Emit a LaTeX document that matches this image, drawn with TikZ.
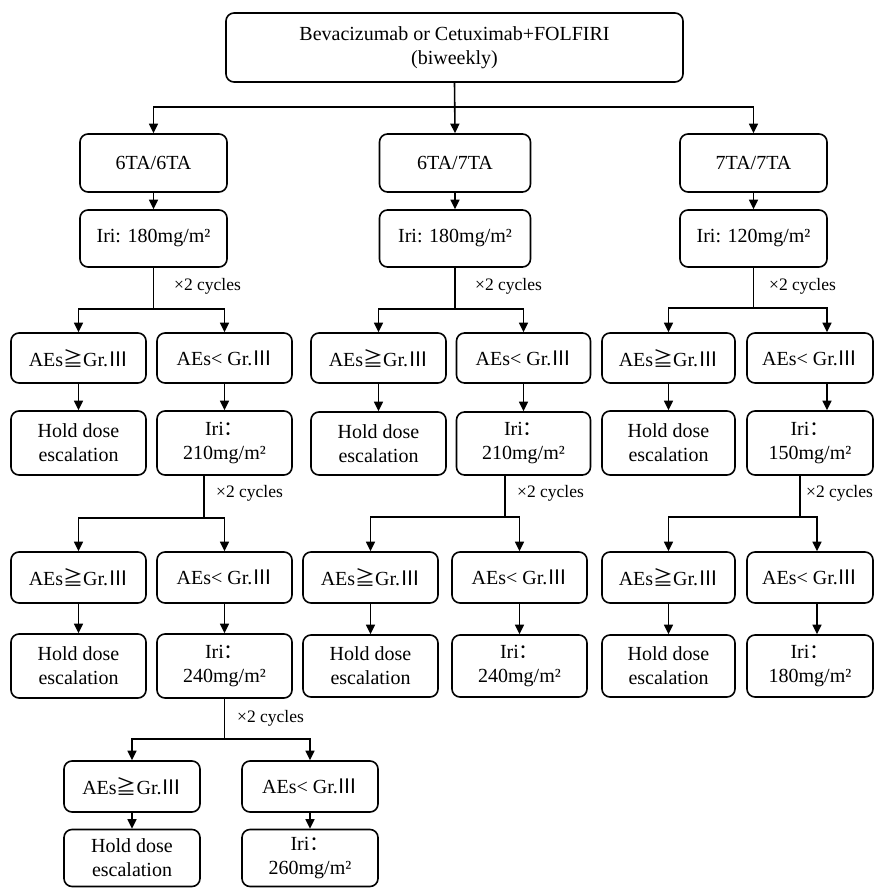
\documentclass[tikz,border=0pt]{standalone}
\usepackage{fontspec}
\setmainfont{Liberation Serif}
\newfontfamily\cjk{Noto Sans CJK SC}
\usetikzlibrary{arrows.meta,calc}
\newcommand{\geqq}{{\cjk ≧}}
\newcommand{\rIII}{{\cjk Ⅲ}}
\newcommand{\ycol}{Iri{\cjk ：}}
\begin{document}
\begin{tikzpicture}[x=1pt,y=-1pt,
  box/.style={draw, rounded corners=8pt, line width=1.6pt, align=center, inner sep=0pt,
    font=\fontsize{20}{24}\selectfont},
  bsz/.style 2 args={minimum width=#1pt, minimum height=#2pt},
  arr/.style={line width=1.6pt, -{Triangle[length=9.5pt,width=9pt]}},
  ln/.style={line width=1.6pt},
  cyc/.style={anchor=west, inner sep=0pt, font=\fontsize{17.5}{19}\selectfont}]
\useasboundingbox (0,0) rectangle (874,888);
% top
\node[box,bsz={457}{69}] (top) at (454.5,47.5) {Bevacizumab or Cetuximab+FOLFIRI\\(biweekly)};
% level 1
\node[box,bsz={147}{58}] (a1) at (153.5,163) {6TA/6TA};
\node[box,bsz={151}{58}] (b1) at (455,163) {6TA/7TA};
\node[box,bsz={147}{58}] (c1) at (753.5,163) {7TA/7TA};
\coordinate (j0) at (455,107);
\draw[arr] (top.south) -- (b1.north);
\draw[arr] (j0) -| (a1.north);
\draw[arr] (j0) -| (c1.north);
% level 2
\node[box,bsz={147}{57}] (a2) at (153.5,238.5) {Iri: 180mg/m²};
\node[box,bsz={151}{57}] (b2) at (455,238.5) {Iri: 180mg/m²};
\node[box,bsz={147}{57}] (c2) at (753.5,238.5) {Iri: 120mg/m²};
\draw[arr] (a1) -- (a2);
\draw[arr] (b1) -- (b2);
\draw[arr] (c1) -- (c2);

% ===== column A =====
\node[box,bsz={135}{50}] (aY1) at (78.5,358) {AEs\geqq Gr.\rIII};
\node[box,bsz={135}{50}] (aN1) at (224.5,358) {AEs< Gr.\rIII};
\coordinate (ja1) at (153.5,309);
\draw[ln] (a2.south) -- (ja1);
\node[cyc] (la1) at (174,286) {×2 cycles};
\draw[arr] (ja1) -| (aY1.north);
\draw[arr] (ja1) -| (aN1.north);
\node[box,bsz={135}{64}] (aH1) at (78.5,443) {Hold dose\\escalation};
\node[box,bsz={135}{64}] (aI1) at (224.5,443) {\ycol\\210mg/m²};
\draw[arr] (aY1) -- (aH1);
\draw[arr] (aN1) -- (aI1);
\coordinate (ja2) at (204,518);
\draw[ln] (ja2 |- aI1.south) -- (ja2);
\node[cyc] (la2) at (216,493) {×2 cycles};
\node[box,bsz={135}{51}] (aY2) at (78.5,577.5) {AEs\geqq Gr.\rIII};
\node[box,bsz={135}{51}] (aN2) at (224.5,577.5) {AEs< Gr.\rIII};
\draw[arr] (ja2) -| (aY2.north);
\draw[arr] (ja2) -| (aN2.north);
\node[box,bsz={135}{64}] (aH2) at (78.5,666) {Hold dose\\escalation};
\node[box,bsz={135}{64}] (aI2) at (224.5,666) {\ycol\\240mg/m²};
\draw[arr] (aY2) -- (aH2);
\draw[arr] (aN2) -- (aI2);
\coordinate (ja3) at (224.5,739);
\draw[ln] (aI2.south) -- (ja3);
\node[cyc] (la3) at (237,718) {×2 cycles};
\node[box,bsz={136}{51}] (aY3) at (132,786.5) {AEs\geqq Gr.\rIII};
\node[box,bsz={136}{51}] (aN3) at (310,786.5) {AEs< Gr.\rIII};
\draw[arr] (ja3) -| (aY3.north);
\draw[arr] (ja3) -| (aN3.north);
\node[box,bsz={136}{57}] (aH3) at (132,858) {Hold dose\\escalation};
\node[box,bsz={136}{57}] (aI3) at (310,858) {\ycol\\260mg/m²};
\draw[arr] (aY3) -- (aH3);
\draw[arr] (aN3) -- (aI3);

% ===== column B =====
\node[box,bsz={135}{50}] (bY1) at (378.5,358) {AEs\geqq Gr.\rIII};
\node[box,bsz={134}{50}] (bN1) at (523.5,358) {AEs< Gr.\rIII};
\coordinate (jb1) at (455,309);
\draw[ln] (b2.south) -- (jb1);
\node[cyc] (lb1) at (475,286) {×2 cycles};
\draw[arr] (jb1) -| (bY1.north);
\draw[arr] (jb1) -| (bN1.north);
\node[box,bsz={135}{63}] (bH1) at (378.5,443.5) {Hold dose\\escalation};
\node[box,bsz={134}{63}] (bI1) at (523.5,443.5) {\ycol\\210mg/m²};
\draw[arr] (bY1) -- (bH1);
\draw[arr] (bN1) -- (bI1);
\coordinate (jb2) at (505,517);
\draw[ln] (jb2 |- bI1.south) -- (jb2);
\node[cyc] (lb2) at (517,493) {×2 cycles};
\node[box,bsz={135}{51}] (bY2) at (370.5,577.5) {AEs\geqq Gr.\rIII};
\node[box,bsz={135}{51}] (bN2) at (519.5,577.5) {AEs< Gr.\rIII};
\draw[arr] (jb2) -| (bY2.north);
\draw[arr] (jb2) -| (bN2.north);
\node[box,bsz={135}{62}] (bH2) at (370.5,666) {Hold dose\\escalation};
\node[box,bsz={135}{62}] (bI2) at (519.5,666) {\ycol\\240mg/m²};
\draw[arr] (bY2) -- (bH2);
\draw[arr] (bN2) -- (bI2);

% ===== column C =====
\node[box,bsz={133}{50}] (cY1) at (668.5,358) {AEs\geqq Gr.\rIII};
\node[box,bsz={126}{50}] (cN1) at (810,358) {AEs< Gr.\rIII};
\coordinate (jc1) at (753.5,308);
\coordinate (tc1) at (827,0);
\draw[ln] (c2.south) -- (jc1);
\node[cyc] (lc1) at (769,286) {×2 cycles};
\draw[arr] (jc1) -| (tc1 |- cN1.north);
\draw[arr] (jc1) -| (cY1.north);
\node[box,bsz={133}{64}] (cH1) at (668.5,443) {Hold dose\\escalation};
\node[box,bsz={126}{64}] (cI1) at (810,443) {\ycol\\150mg/m²};
\draw[arr] (cY1) -- (cH1);
\draw[arr] (tc1 |- cN1.south) -- (tc1 |- cI1.north);
\coordinate (jc2) at (800,517);
\draw[ln] (jc2 |- cI1.south) -- (jc2);
\node[cyc] (lc2) at (806,493) {×2 cycles};
\coordinate (tc2) at (817,0);
\node[box,bsz={133}{51}] (cY2) at (668.5,577.5) {AEs\geqq Gr.\rIII};
\node[box,bsz={126}{51}] (cN2) at (810,577.5) {AEs< Gr.\rIII};
\draw[arr] (jc2) -| (cY2.north);
\draw[arr] (jc2) -| (tc2 |- cN2.north);
\node[box,bsz={133}{62}] (cH2) at (668.5,666) {Hold dose\\escalation};
\node[box,bsz={126}{62}] (cI2) at (810,666) {\ycol\\180mg/m²};
\draw[arr] (cY2) -- (cH2);
\draw[arr] (tc2 |- cN2.south) -- (tc2 |- cI2.north);
\end{tikzpicture}
\end{document}
